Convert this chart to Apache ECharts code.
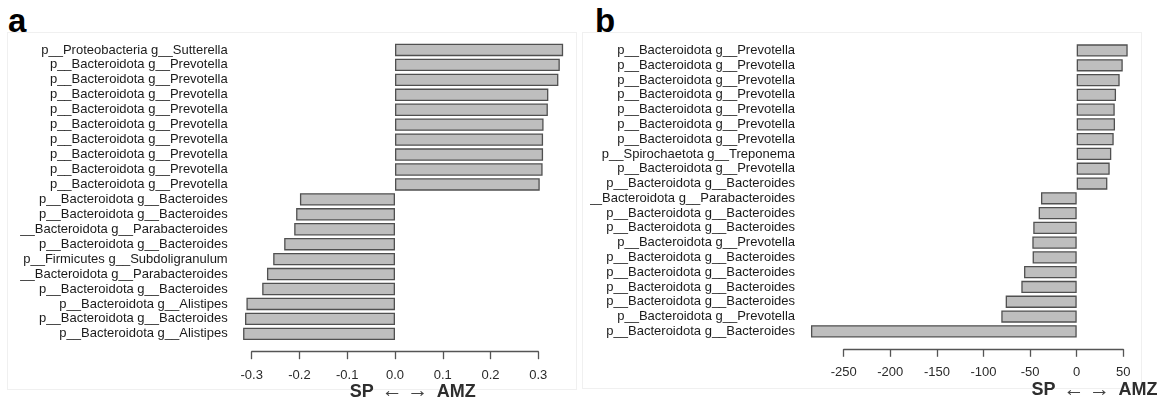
<!DOCTYPE html>
<html>
<head>
<meta charset="utf-8">
<script src="https://cdn.jsdelivr.net/npm/echarts@6/dist/echarts.min.js"></script>
<style>
  html, body { margin: 0; padding: 0; background: #ffffff; }
  body { width: 1165px; height: 403px; position: relative; overflow: hidden;
         font-family: "Liberation Sans", Arial, sans-serif; }
  .box { position: absolute; border: 1px solid #f0f0f0; box-sizing: border-box; }
  .tag { position: absolute; font: bold 33px/33px "Liberation Sans", Arial, sans-serif; color: #000; }
  .panel { position: absolute; top: 0; height: 403px; }
</style>
</head>
<body>
<div class="box" style="left:7px;top:32px;width:570px;height:358px;"></div>
<div class="box" style="left:582px;top:32px;width:560px;height:357px;"></div>
<div class="tag" style="left:8px;top:4px;">a</div>
<div class="tag" style="left:595px;top:4px;">b</div>
<div id="panelA" class="panel" style="left:20px;width:560px;"></div>
<div id="panelB" class="panel" style="left:590px;width:575px;"></div>
<script>
// Panel a: taxa ranked by effect (top to bottom)
const taxaA = [
  'p__Proteobacteria g__Sutterella',
  'p__Bacteroidota g__Prevotella',
  'p__Bacteroidota g__Prevotella',
  'p__Bacteroidota g__Prevotella',
  'p__Bacteroidota g__Prevotella',
  'p__Bacteroidota g__Prevotella',
  'p__Bacteroidota g__Prevotella',
  'p__Bacteroidota g__Prevotella',
  'p__Bacteroidota g__Prevotella',
  'p__Bacteroidota g__Prevotella',
  'p__Bacteroidota g__Bacteroides',
  'p__Bacteroidota g__Bacteroides',
  'p__Bacteroidota g__Parabacteroides',
  'p__Bacteroidota g__Bacteroides',
  'p__Firmicutes g__Subdoligranulum',
  'p__Bacteroidota g__Parabacteroides',
  'p__Bacteroidota g__Bacteroides',
  'p__Bacteroidota g__Alistipes',
  'p__Bacteroidota g__Bacteroides',
  'p__Bacteroidota g__Alistipes'
];
const valuesA = [
  0.352, 0.345, 0.342, 0.321, 0.320, 0.311, 0.310, 0.310, 0.309, 0.303,
  -0.199, -0.207, -0.211, -0.232, -0.255, -0.268, -0.278, -0.311, -0.314, -0.318
];

// Panel b: taxa ranked by effect (top to bottom)
const taxaB = [
  'p__Bacteroidota g__Prevotella',
  'p__Bacteroidota g__Prevotella',
  'p__Bacteroidota g__Prevotella',
  'p__Bacteroidota g__Prevotella',
  'p__Bacteroidota g__Prevotella',
  'p__Bacteroidota g__Prevotella',
  'p__Bacteroidota g__Prevotella',
  'p__Spirochaetota g__Treponema',
  'p__Bacteroidota g__Prevotella',
  'p__Bacteroidota g__Bacteroides',
  'p__Bacteroidota g__Parabacteroides',
  'p__Bacteroidota g__Bacteroides',
  'p__Bacteroidota g__Bacteroides',
  'p__Bacteroidota g__Prevotella',
  'p__Bacteroidota g__Bacteroides',
  'p__Bacteroidota g__Bacteroides',
  'p__Bacteroidota g__Bacteroides',
  'p__Bacteroidota g__Bacteroides',
  'p__Bacteroidota g__Prevotella',
  'p__Bacteroidota g__Bacteroides'
];
const valuesB = [
  54.7, 49.4, 46.1, 42.2, 40.8, 41.1, 39.7, 37.1, 35.4, 32.9,
  -38.3, -40.8, -46.6, -47.6, -47.3, -56.5, -59.4, -76.2, -80.9, -285.1
];

// Axis ranges and the group labels under each axis
const axisA = { min: -0.3, max: 0.3, interval: 0.1 };
const axisB = { min: -250, max: 50, interval: 50 };
const groupLeft = 'SP';
const groupRight = 'AMZ';

const FONT = '"Liberation Sans", Arial, sans-serif';

function buildPanel(el, cfg) {
  const chart = echarts.init(el, null, { renderer: 'canvas' });
  chart.setOption({
    animation: false,
    backgroundColor: 'transparent',
    grid: {
      left: cfg.gridLeft, right: cfg.gridRight, top: cfg.gridTop, bottom: cfg.gridBottom,
      containLabel: false, outerBoundsMode: 'none'
    },
    xAxis: {
      type: 'value',
      min: cfg.axis.min, max: cfg.axis.max, interval: cfg.axis.interval,
      offset: cfg.axisOffset,
      axisLine: { show: true, lineStyle: { color: '#555555', width: 1.3 } },
      axisTick: { show: true, length: 7.5, lineStyle: { color: '#555555', width: 1.3 } },
      splitLine: { show: false },
      axisLabel: {
        margin: 17,
        color: '#2a2a2a',
        fontFamily: FONT,
        fontSize: 13,
        formatter: cfg.tickFormat
      }
    },
    yAxis: {
      type: 'category',
      inverse: true,
      data: cfg.taxa,
      axisLine: { show: false },
      axisTick: { show: false },
      splitLine: { show: false },
      axisLabel: {
        margin: cfg.labelMargin,
        color: '#1a1a1a',
        fontFamily: FONT,
        fontSize: 13,
        interval: 0
      }
    },
    series: [{
      type: 'bar',
      data: cfg.values,
      clip: false,
      barCategoryGap: '17%',
      itemStyle: { color: '#bebebe', borderColor: '#505050', borderWidth: 1.3 }
    }]
  });

  // Group labels placed around the zero point of the value axis
  const zeroX = chart.convertToPixel({ xAxisIndex: 0 }, 0);
  const y = cfg.titleY;
  const bold = 'bold 18px ' + FONT;
  const thin = '21px ' + FONT;
  chart.setOption({
    graphic: [
      { type: 'text', x: zeroX - 33.2, y: y, style: { text: groupLeft, font: bold, fill: '#2e2e2e', align: 'center', verticalAlign: 'middle' } },
      { type: 'text', x: zeroX - 2.8, y: y, style: { text: '\u2190', font: thin, fill: '#444444', align: 'center', verticalAlign: 'middle' } },
      { type: 'text', x: zeroX + 22.8, y: y, style: { text: '\u2192', font: thin, fill: '#444444', align: 'center', verticalAlign: 'middle' } },
      { type: 'text', x: zeroX + 61.2, y: y, style: { text: groupRight, font: bold, fill: '#2e2e2e', align: 'center', verticalAlign: 'middle' } }
    ]
  });
  return chart;
}

buildPanel(document.getElementById('panelA'), {
  taxa: taxaA, values: valuesA, axis: axisA,
  gridLeft: 231.7, gridRight: 41.7, gridTop: 42.5, gridBottom: 61.7,
  axisOffset: 10.4, labelMargin: 24, titleY: 391.7,
  tickFormat: function (v) { return Math.abs(v) < 1e-9 ? '0.0' : v.toFixed(1); }
});

buildPanel(document.getElementById('panelB'), {
  taxa: taxaB, values: valuesB, axis: axisB,
  gridLeft: 253.7, gridRight: 41.7, gridTop: 43.1, gridBottom: 64.3,
  axisOffset: 10.6, labelMargin: 48.7, titleY: 390,
  tickFormat: function (v) { return String(Math.round(v)); }
});
</script>
</body>
</html>
